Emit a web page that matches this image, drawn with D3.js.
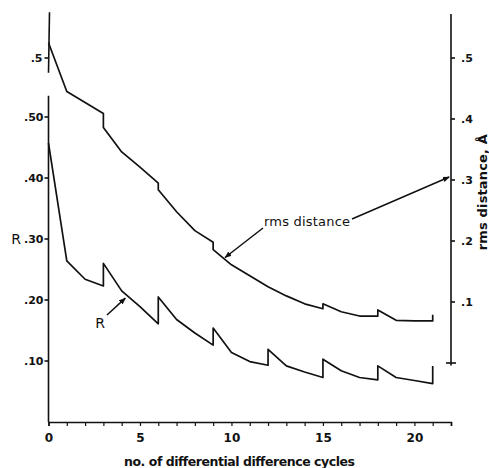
<!DOCTYPE html>
<html>
<head>
<meta charset="utf-8">
<script src="https://cdn.jsdelivr.net/npm/d3@7"></script>
<style>
  body { margin: 0; background: #fff; }
  svg { display: block; }
  text { font-family: "DejaVu Sans", sans-serif; fill: #111; }
  .tick-label { font-size: 11px; font-weight: bold; }
  .curve { fill: none; stroke: #111; stroke-width: 1.7; stroke-linejoin: round; }
  .axis-line { stroke: #111; stroke-width: 1.6; fill: none; }
</style>
</head>
<body>
<svg id="chart" width="489" height="468"></svg>
<script>
// cycles where a series has a vertical jump appear twice
const rmsCycles = [0, 1, 3, 3, 4, 5, 6, 6, 7, 8, 9, 9, 10, 11, 12, 13, 14, 15, 15, 16, 17, 18, 18, 19, 20, 21, 21];
const rmsValues = [0.525, 0.445, 0.409, 0.386, 0.346, 0.321, 0.295, 0.284, 0.248, 0.217, 0.198, 0.186, 0.161, 0.143, 0.125, 0.110, 0.097, 0.089, 0.097, 0.084, 0.077, 0.077, 0.087, 0.070, 0.069, 0.069, 0.079];

const rCycles = [0, 1, 2, 3, 3, 4, 5, 6, 6, 7, 8, 9, 9, 10, 11, 12, 12, 13, 14, 15, 15, 16, 17, 18, 18, 19, 20, 21, 21];
const rValues = [0.457, 0.264, 0.234, 0.223, 0.260, 0.215, 0.189, 0.161, 0.205, 0.168, 0.146, 0.126, 0.154, 0.114, 0.099, 0.093, 0.119, 0.092, 0.082, 0.073, 0.103, 0.084, 0.073, 0.069, 0.092, 0.073, 0.068, 0.063, 0.092];

const xTickLabels = [0, 5, 10, 15, 20];
const rTicks = [0.1, 0.2, 0.3, 0.4, 0.5];
const rTickLabels = [".10", ".20", ".30", ".40", ".50"];
const rmsTicks = [0.1, 0.2, 0.3, 0.4, 0.5];
const rmsTickLabels = [".1", ".2", ".3", ".4", ".5"];

const svg = d3.select("#chart");

const x = d3.scaleLinear().domain([0, 22]).range([48.5, 451]);
const yR = d3.scaleLinear().domain([0, 0.6]).range([422, 56]);
const yRms = d3.scaleLinear().domain([0, 0.6]).range([363, -3]);

// arrowhead marker
svg.append("defs").append("marker")
  .attr("id", "arrow")
  .attr("viewBox", "0 0 10 10")
  .attr("refX", 9).attr("refY", 5)
  .attr("markerWidth", 7).attr("markerHeight", 7)
  .attr("markerUnits", "userSpaceOnUse")
  .attr("orient", "auto")
  .append("path")
  .attr("d", "M0,1 L10,5 L0,9 Z")
  .attr("fill", "#111");

// x axis
const xAxis = d3.axisBottom(x)
  .tickValues(d3.range(0, 23))
  .tickSize(4)
  .tickFormat(d => xTickLabels.includes(d) ? d : "");
const gx = svg.append("g")
  .attr("transform", `translate(0,${yR(0)})`)
  .call(xAxis);
gx.select(".domain").attr("stroke", "#111").attr("stroke-width", 1.6);
gx.selectAll(".tick line").attr("stroke", "#111").attr("stroke-width", 1.2);
gx.selectAll(".tick text")
  .attr("class", "tick-label")
  .attr("dy", "1.1em")
  .style("font-size", "12px")
  .style("font-family", "'DejaVu Sans', sans-serif");

// left axis (R), lower segment
svg.append("line").attr("class", "axis-line")
  .attr("x1", x(0)).attr("x2", x(0))
  .attr("y1", yR(0.535)).attr("y2", yR(0));
const gl = svg.append("g");
rTicks.forEach((t, i) => {
  gl.append("line").attr("class", "axis-line")
    .attr("x1", x(0) - 4).attr("x2", x(0))
    .attr("y1", yR(t)).attr("y2", yR(t));
  gl.append("text").attr("class", "tick-label")
    .attr("x", x(0) - 5).attr("y", yR(t))
    .attr("dy", "0.36em")
    .attr("text-anchor", "end")
    .text(rTickLabels[i]);
});

// left axis, upper segment (rms scale)
svg.append("line").attr("class", "axis-line")
  .attr("x1", x(0) + 1).attr("x2", x(0))
  .attr("y1", yRms(0.575)).attr("y2", yRms(0.476));
svg.append("line").attr("class", "axis-line")
  .attr("x1", x(0) - 4).attr("x2", x(0))
  .attr("y1", yRms(0.5)).attr("y2", yRms(0.5));
svg.append("text").attr("class", "tick-label")
  .attr("x", x(0) - 6).attr("y", yRms(0.5))
  .attr("dy", "0.36em")
  .attr("text-anchor", "end")
  .text(".5");

// right axis (rms distance)
svg.append("line").attr("class", "axis-line")
  .attr("x1", x(22)).attr("x2", x(22))
  .attr("y1", yRms(0.572)).attr("y2", yRms(-0.004));
svg.append("line").attr("class", "axis-line")
  .attr("x1", x(22) - 5).attr("x2", x(22) + 5)
  .attr("y1", yRms(0)).attr("y2", yRms(0));
rmsTicks.forEach((t, i) => {
  svg.append("line").attr("class", "axis-line")
    .attr("x1", x(22)).attr("x2", x(22) + 4)
    .attr("y1", yRms(t)).attr("y2", yRms(t));
  svg.append("text").attr("class", "tick-label")
    .attr("x", x(22) + 10).attr("y", yRms(t))
    .attr("dy", "0.36em")
    .text(rmsTickLabels[i]);
});

// curves
const line = (xs, ys, yScale) => d3.line()
  .x((d, i) => x(xs[i]))
  .y((d, i) => yScale(ys[i]))(xs);

svg.append("path").attr("class", "curve")
  .attr("d", line(rmsCycles, rmsValues, yRms));
svg.append("path").attr("class", "curve")
  .attr("d", line(rCycles, rValues, yR));

// axis titles
svg.append("text")
  .attr("x", 16).attr("y", yR(0.3))
  .attr("dy", "0.36em")
  .attr("text-anchor", "middle")
  .style("font-size", "14px")
  .text("R");

svg.append("text")
  .attr("transform", `translate(482,${yRms(0.28)}) rotate(-90)`)
  .attr("text-anchor", "middle")
  .attr("dy", "0.36em")
  .attr("textLength", 116)
  .style("font-size", "13px")
  .style("font-weight", "bold")
  .text("rms distance, Å");

svg.append("text")
  .attr("x", 124).attr("y", 466)
  .attr("textLength", 231)
  .style("font-size", "12.5px")
  .style("font-weight", "bold")
  .text("no. of differential difference cycles");

// annotations
svg.append("text")
  .attr("x", 264).attr("y", 226)
  .attr("textLength", 86)
  .style("font-size", "13px")
  .text("rms distance");
svg.append("line")
  .attr("x1", 263).attr("y1", 228)
  .attr("x2", x(9.65)).attr("y2", yRms(0.173))
  .attr("stroke", "#111").attr("stroke-width", 1.5)
  .attr("marker-end", "url(#arrow)");
svg.append("line")
  .attr("x1", 352).attr("y1", 219)
  .attr("x2", x(21.9)).attr("y2", yRms(0.305))
  .attr("stroke", "#111").attr("stroke-width", 1.5)
  .attr("marker-end", "url(#arrow)");

svg.append("text")
  .attr("x", 100).attr("y", 323)
  .attr("dy", "0.36em")
  .attr("text-anchor", "middle")
  .style("font-size", "14px")
  .text("R");
svg.append("line")
  .attr("x1", 107).attr("y1", 315)
  .attr("x2", x(4.2)).attr("y2", yR(0.203))
  .attr("stroke", "#111").attr("stroke-width", 1.5)
  .attr("marker-end", "url(#arrow)");
</script>
</body>
</html>
